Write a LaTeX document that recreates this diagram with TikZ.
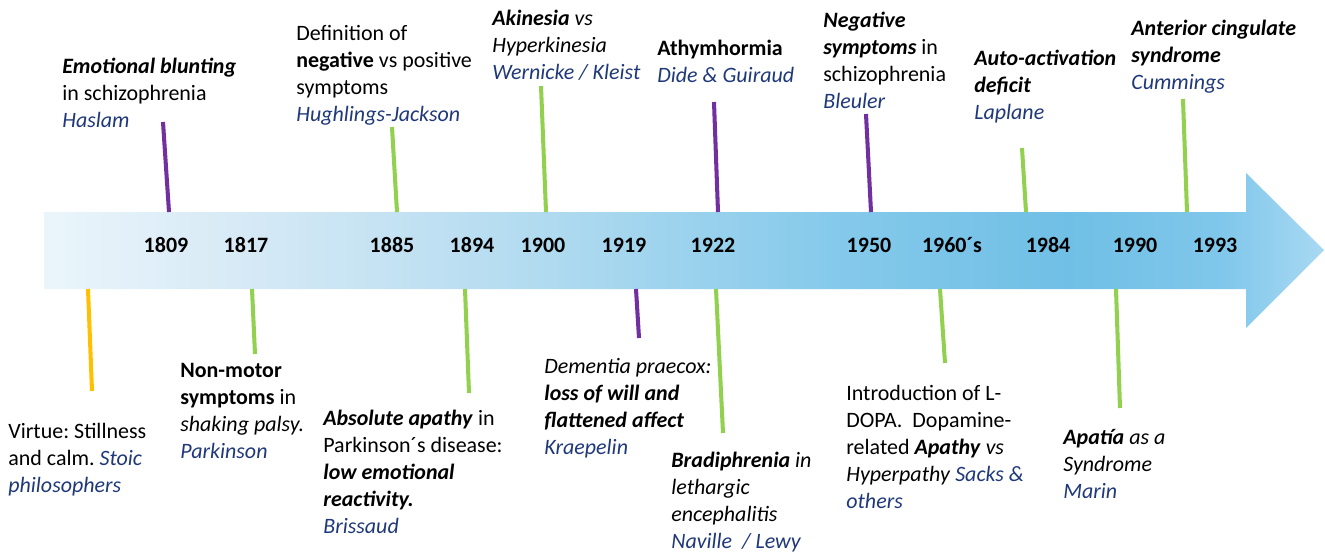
\documentclass[tikz,border=0pt]{standalone}
\usepackage{fontspec}
\setmainfont{Carlito}
\usetikzlibrary{positioning}

\definecolor{tickpurple}{RGB}{112,48,160}
\definecolor{tickgreen}{RGB}{146,208,80}
\definecolor{tickorange}{RGB}{255,192,0}
\definecolor{authorblue}{RGB}{31,56,122}

\newcommand{\who}[1]{{\color{authorblue}\itshape #1}}
\newcommand{\notefont}{\frenchspacing\fontsize{12.5}{15.3}\selectfont}

\pgfdeclarehorizontalshading{timeline}{100bp}{%
  rgb(0bp)=(0.92,0.96,0.985); rgb(25bp)=(0.92,0.96,0.985);
  rgb(32bp)=(0.85,0.92,0.965); rgb(44bp)=(0.70,0.86,0.94);
  rgb(56bp)=(0.52,0.79,0.92); rgb(65bp)=(0.44,0.75,0.90);
  rgb(71bp)=(0.50,0.78,0.92); rgb(75bp)=(0.66,0.85,0.95);
  rgb(100bp)=(0.66,0.85,0.95)}

% notes sit on the baseline of their last line
\tikzset{
  note/.style={anchor=base west, align=left, inner sep=0pt, font=\notefont},
  year/.style={anchor=base, inner sep=0pt, font=\notefont\bfseries},
  tick/.style={line width=2.3pt}
}

\begin{document}
\begin{tikzpicture}[x=0.02cm, y=-0.02cm]
        \useasboundingbox (0,0) rectangle (1325,551);
        % the arrow
        \shade[shading=timeline] (44,212) -- (1246,212) -- (1246,173) -- (1324,250)
          -- (1246,328) -- (1246,289) -- (44,289) -- cycle;
        % years
        \node[year] (y1809) at (166,252) {1809};
        \node[year] (y1817) at (246,252) {1817};
        \node[year] (y1885) at (392,252) {1885};
        \node[year] (y1894) at (472,252) {1894};
        \node[year] (y1900) at (543,252) {1900};
        \node[year] (y1919) at (624,252) {1919};
        \node[year] (y1922) at (713,252) {1922};
        \node[year] (y1950) at (869,252) {1950};
        \node[year] (y1960) at (952,252) {1960´s};
        \node[year] (y1984) at (1048,252) {1984};
        \node[year] (y1990) at (1135,252) {1990};
        \node[year] (y1993) at (1215,252) {1993};
        % notes above
        \node[note] (haslam) at (62,127) {\textbf{\textit{Emotional blunting}}\\in schizophrenia\\\who{Haslam}};
        \node[note] (jackson) at (296,121) {Definition of\\\textbf{negative} vs positive\\symptoms\\\who{Hughlings-Jackson}};
        \node[note] (wernicke) at (492,79) {\textbf{\textit{Akinesia}} \textit{vs}\\\textit{Hyperkinesia}\\\who{Wernicke / Kleist}};
        \node[note] (dide) at (657,82) {\textbf{Athymhormia}\\\who{Dide \& Guiraud}};
        \node[note] (bleuler) at (823,108) {\textbf{\textit{Negative}}\\\textbf{\textit{symptoms}} in\\schizophrenia\\\who{Bleuler}};
        \node[note] (laplane) at (974,119) {\textbf{\textit{Auto-activation}}\\\textbf{\textit{deficit}}\\\who{Laplane}};
        \node[note] (cummings) at (1131,89) {\textbf{\textit{Anterior cingulate}}\\\textbf{\textit{syndrome}}\\\who{Cummings}};
        % notes below
        \node[note] (stoic) at (8,492) {Virtue: Stillness\\and calm. \who{Stoic}\\\who{philosophers}};
        \node[note] (parkinson) at (180,458) {\textbf{Non-motor}\\\textbf{symptoms} in\\\textit{shaking palsy.}\\\who{Parkinson}};
        \node[note] (brissaud) at (323,533) {\textbf{\textit{Absolute apathy}} in\\Parkinson´s disease:\\\textbf{\textit{low emotional}}\\\textbf{\textit{reactivity.}}\\\who{Brissaud}};
        \node[note] (kraepelin) at (544,454) {\textit{Dementia praecox:}\\\textbf{\textit{loss of will and}}\\\textbf{\textit{flattened affect}}\\\who{Kraepelin}};
        \node[note] (lewy) at (671,548) {\textbf{\textit{Bradiphrenia}} \textit{in}\\\textit{lethargic}\\\textit{encephalitis}\\\who{Naville\ \ / Lewy}};
        \node[note] (sacks) at (846,508) {Introduction of L-\\DOPA.\ \ Dopamine-\\related \textbf{\textit{Apathy}} \textit{vs}\\\textit{Hyperpathy} \who{Sacks \&}\\\who{others}};
        \node[note] (marin) at (1063,498) {\textbf{\textit{Apatía}} \textit{as a}\\\textit{Syndrome}\\\who{Marin}};
        % tick ends
        \coordinate (u1809) at (163,122); \coordinate (a1809) at (169,212);
        \coordinate (u1885) at (392,127); \coordinate (a1885) at (397,212);
        \coordinate (u1900) at (541,86); \coordinate (a1900) at (546,212);
        \coordinate (u1922) at (714,102); \coordinate (a1922) at (718,212);
        \coordinate (u1950) at (866,114); \coordinate (a1950) at (871,212);
        \coordinate (u1984) at (1022,148); \coordinate (a1984) at (1026,212);
        \coordinate (u1993) at (1183,99); \coordinate (a1993) at (1187,212);
        \coordinate (b1800) at (88,289); \coordinate (d1800) at (92,391);
        \coordinate (b1817) at (252,289); \coordinate (d1817) at (255,354);
        \coordinate (b1894) at (465,289); \coordinate (d1894) at (469,393);
        \coordinate (b1919) at (636,289); \coordinate (d1919) at (639,338);
        \coordinate (b1922) at (716,289); \coordinate (d1922) at (723,433);
        \coordinate (b1960) at (940,289); \coordinate (d1960) at (945,363);
        \coordinate (b1990) at (1116,289); \coordinate (d1990) at (1120,408);
        % ticks
        \draw[tick,tickpurple] (u1809) -- (a1809) (u1922) -- (a1922) (u1950) -- (a1950);
        \draw[tick,tickgreen] (u1885) -- (a1885) (u1900) -- (a1900) (u1984) -- (a1984) (u1993) -- (a1993);
        \draw[tick,tickorange] (b1800) -- (d1800);
        \draw[tick,tickpurple] (b1919) -- (d1919);
        \draw[tick,tickgreen] (b1817) -- (d1817) (b1894) -- (d1894) (b1922) -- (d1922) (b1960) -- (d1960) (b1990) -- (d1990);
      \end{tikzpicture}
\end{document}
